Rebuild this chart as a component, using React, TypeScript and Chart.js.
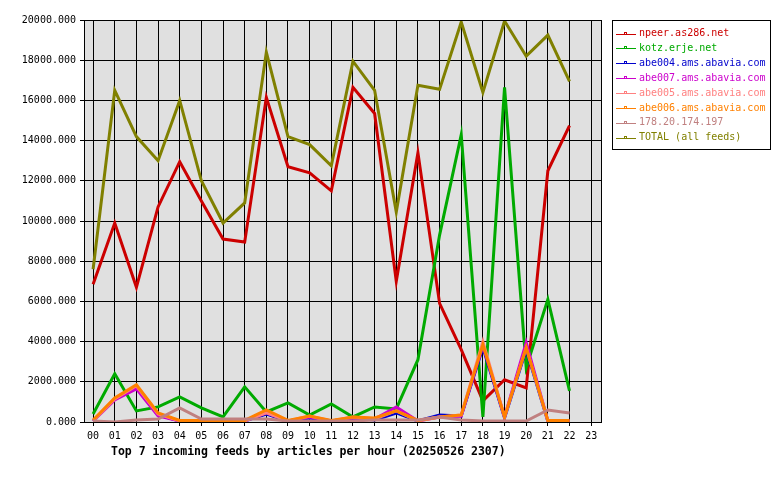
import React, { useEffect, useRef } from "react";
import { Chart, registerables } from "chart.js";

Chart.register(...registerables);

const HOURS = ["00","01","02","03","04","05","06","07","08","09","10","11","12","13","14","15","16","17","18","19","20","21","22","23"];
const Y_TICKS = [0, 2000, 4000, 6000, 8000, 10000, 12000, 14000, 16000, 18000, 20000];

const NPEER = [6850, 9900, 6700, 10700, 12950, 11000, 9100, 8950, 16150, 12700, 12400, 11500, 16650, 15350, 7000, 13400, 5900, 3600, 1050, 2100, 1700, 12500, 14750];
const KOTZ = [400, 2400, 550, 750, 1250, 700, 250, 1750, 500, 950, 350, 900, 250, 750, 650, 3100, 9300, 14300, 250, 16650, 2700, 6100, 1550];
const ABE004 = [50, 1150, 1700, 350, 50, 50, 50, 50, 400, 50, 200, 50, 200, 100, 450, 50, 350, 300, 3700, 200, 3600, 30, 30];
const ABE007 = [50, 1100, 1650, 300, 50, 50, 50, 50, 450, 50, 250, 50, 200, 150, 750, 50, 250, 300, 3800, 250, 3950, 50, 50];
const ABE005 = [50, 1150, 1800, 400, 50, 50, 50, 50, 450, 50, 300, 50, 250, 150, 550, 50, 250, 350, 4000, 250, 3700, 50, 50];
const ABE006 = [100, 1200, 1850, 450, 80, 80, 80, 80, 600, 80, 300, 80, 250, 200, 550, 80, 250, 350, 3850, 250, 3700, 80, 80];
const IP178 = [50, 0, 100, 150, 700, 150, 150, 150, 150, 50, 50, 50, 50, 100, 100, 100, 250, 100, 50, 50, 50, 600, 450];
const TOTAL = [7600, 16500, 14200, 13000, 16000, 12000, 9900, 10900, 18400, 14200, 13800, 12750, 17950, 16500, 10450, 16750, 16550, 19900, 16400, 19950, 18200, 19250, 16950];

const SERIES_NAMES = ["npeer.as286.net", "kotz.erje.net", "abe004.ams.abavia.com", "abe007.ams.abavia.com", "abe005.ams.abavia.com", "abe006.ams.abavia.com", "178.20.174.197", "TOTAL (all feeds)"];
const SERIES_COLORS = ["#cc0000", "#00aa00", "#0000cc", "#cc00cc", "#ff8080", "#ff8000", "#c08080", "#808000"];
const SERIES_VALUES = [NPEER, KOTZ, ABE004, ABE007, ABE005, ABE006, IP178, TOTAL];
const TITLE = "Top 7 incoming feeds by articles per hour (20250526 2307)";

const MONO = "'DejaVu Sans Mono', monospace";

const bgPlugin = {
  id: "plotBg",
  beforeDraw(chart: any) {
    const { ctx, chartArea } = chart;
    ctx.save();
    ctx.fillStyle = "#ffffff";
    ctx.fillRect(0, 0, chart.width, chart.height);
    ctx.fillStyle = "#e0e0e0";
    ctx.fillRect(chartArea.left, chartArea.top, chartArea.right - chartArea.left, chartArea.bottom - chartArea.top);
    ctx.restore();
  },
  afterDraw(chart: any) {
    const { ctx, chartArea } = chart;
    ctx.save();
    ctx.strokeStyle = "#000";
    ctx.lineWidth = 1;
    ctx.strokeRect(chartArea.left + 0.5, chartArea.top + 0.5, chartArea.right - chartArea.left - 1, chartArea.bottom - chartArea.top);
    ctx.fillStyle = "#000";
    ctx.font = `bold 11.5px ${MONO}`;
    ctx.textBaseline = "middle";
    ctx.textAlign = "left";
    ctx.fillText(TITLE, 111, 452);
    const lx = 612.5, ly = 20.5, lw = 158, lh = 129;
    ctx.fillStyle = "#ffffff";
    ctx.fillRect(lx, ly, lw, lh);
    ctx.strokeStyle = "#000";
    ctx.strokeRect(lx, ly, lw, lh);
    ctx.font = `10px ${MONO}`;
    SERIES_NAMES.forEach((name, i) => {
      const y = 33.5 + i * 14.9;
      const c = SERIES_COLORS[i];
      ctx.strokeStyle = c;
      ctx.lineWidth = 1;
      ctx.beginPath();
      ctx.moveTo(616, Math.round(y) + 0.5);
      ctx.lineTo(636, Math.round(y) + 0.5);
      ctx.stroke();
      ctx.strokeRect(624.5, Math.round(y) - 1.5, 2, 2);
      ctx.fillStyle = c;
      ctx.fillText(name, 639, y);
    });
    ctx.restore();
  },
};

export default function App() {
  const ref = useRef<HTMLCanvasElement>(null);
  useEffect(() => {
    if (!ref.current) return;
    const n = SERIES_NAMES.length;
    const chart = new Chart(ref.current, {
      type: "line",
      data: {
        datasets: SERIES_NAMES.map((name, i) => ({
          label: name,
          data: SERIES_VALUES[i].map((v, k) => ({ x: k, y: v })),
          borderColor: SERIES_COLORS[i],
          backgroundColor: SERIES_COLORS[i],
          borderWidth: 3,
          pointRadius: 0,
          tension: 0,
          fill: false,
          order: n - 1 - i,
        })),
      },
      options: {
        responsive: false,
        animation: false,
        events: [],
        layout: { padding: { left: 0, top: 20, right: 178, bottom: 0 } },
        plugins: { legend: { display: false }, tooltip: { enabled: false }, title: { display: false } },
        scales: {
          x: {
            type: "linear",
            min: -0.42,
            max: 23.5,
            afterBuildTicks: (scale: any) => {
              scale.ticks = HOURS.map((_, i) => ({ value: i }));
            },
            afterFit: (scale: any) => {
              scale.height = 58;
            },
            ticks: {
              autoSkip: false,
              maxRotation: 0,
              padding: 4,
              color: "#000",
              font: { family: MONO, size: 10 },
              callback: (v: any) => HOURS[v] ?? "",
            },
            grid: { color: "#000", lineWidth: 1, tickLength: 4, drawTicks: true },
            border: { display: false },
          },
          y: {
            type: "linear",
            min: 0,
            max: 20000,
            afterBuildTicks: (scale: any) => {
              scale.ticks = Y_TICKS.map((v) => ({ value: v }));
            },
            afterFit: (scale: any) => {
              scale.width = 84;
            },
            ticks: {
              padding: 4,
              color: "#000",
              font: { family: MONO, size: 10 },
              callback: (v: any) => Number(v).toFixed(3),
            },
            grid: { color: "#000", lineWidth: 1, tickLength: 4 },
            border: { display: false },
          },
        },
      },
      plugins: [bgPlugin],
    } as any);
    return () => chart.destroy();
  }, []);
  return (
    <div style={{ position: "fixed", left: 0, top: 0, width: 780, height: 480, background: "#fff" }}>
      <canvas ref={ref} width={780} height={480} style={{ width: 780, height: 480 }} />
    </div>
  );
}
